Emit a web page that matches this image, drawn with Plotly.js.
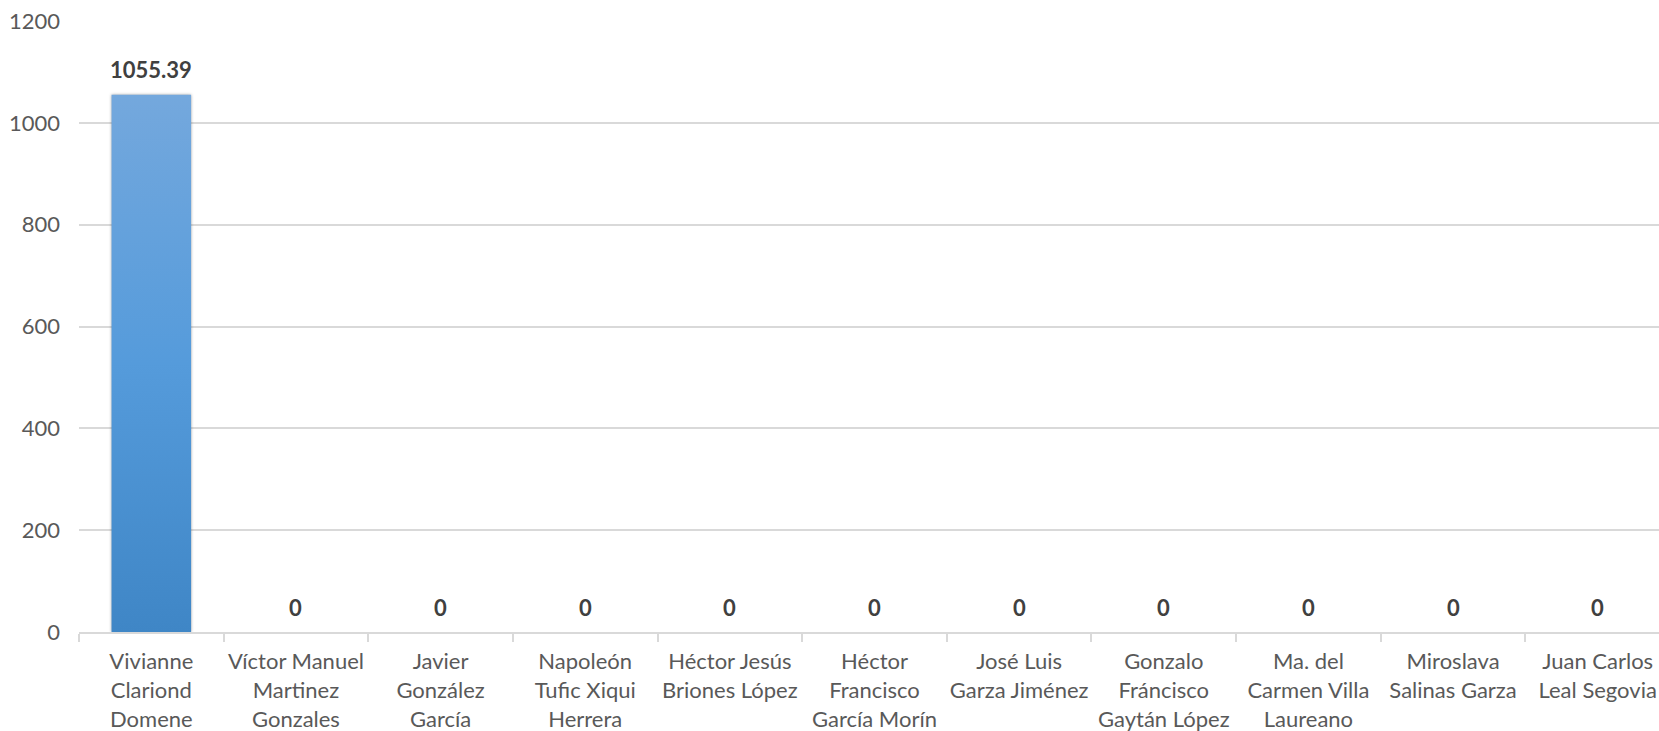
<!DOCTYPE html>
<html>
<head>
<meta charset="utf-8">
<script src="https://cdn.plot.ly/plotly-3.0.1.min.js"></script>
<style>
html,body{margin:0;padding:0;background:#fff;overflow:hidden;}
#chart{width:1659px;height:731px;}
</style>
</head>
<body>
<div id="chart"></div>
<script>
const categories = [
  "Vivianne<br>Clariond<br>Domene",
  "Víctor Manuel<br>Martinez<br>Gonzales",
  "Javier<br>González<br>García",
  "Napoleón<br>Tufic Xiqui<br>Herrera",
  "Héctor Jesús<br>Briones López",
  "Héctor<br>Francisco<br>García Morín",
  "José Luis<br>Garza Jiménez",
  "Gonzalo<br>Fráncisco<br>Gaytán López",
  "Ma. del<br>Carmen Villa<br>Laureano",
  "Miroslava<br>Salinas Garza",
  "Juan Carlos<br>Leal Segovia"
];
const values = [1055.39, 0, 0, 0, 0, 0, 0, 0, 0, 0, 0];
const yTicks = [0, 200, 400, 600, 800, 1000, 1200];

const FONT = "Lato, 'Open Sans', sans-serif";
const labelColor = "#595959";
const gridColor = "#d9d9d9";
const FS = 22;

const trace = {
  type: "bar",
  x: categories,
  y: values,
  width: 0.55,
  marker: {color: "#5b9bd5", line: {width: 0}},
  hoverinfo: "skip"
};

const annotations = categories.map((c, i) => ({
  x: c, y: values[i], xref: "x", yref: "y",
  text: "<b>" + String(values[i]) + "</b>",
  showarrow: false, yanchor: "middle", yshift: 25,
  font: {family: FONT, size: FS, color: "#404040"}
}));

const layout = {
  width: 1659, height: 731,
  margin: {l: 79, r: 0, t: 21, b: 99, pad: 0},
  paper_bgcolor: "#fff", plot_bgcolor: "#fff",
  showlegend: false,
  font: {family: FONT, size: FS, color: labelColor},
  xaxis: {
    type: "category",
    range: [-0.5, 10.5 - 11/144.6],
    showline: true, linecolor: gridColor, linewidth: 2,
    ticks: "outside", tickson: "boundaries", ticklen: 8, tickwidth: 2, tickcolor: gridColor,
    showgrid: false, zeroline: false,
    ticklabelstandoff: 9,
    tickfont: {family: FONT, size: FS, color: labelColor},
    tickangle: 0
  },
  yaxis: {
    range: [0, 1200],
    tickvals: yTicks, ticktext: yTicks.map(String),
    showgrid: true, gridcolor: gridColor, gridwidth: 2,
    zeroline: false, showline: false, ticks: "",
    ticklabelstandoff: 18,
    tickfont: {family: FONT, size: FS, color: labelColor}
  },
  annotations: annotations
};

Plotly.newPlot("chart", [trace], layout, {displayModeBar: false, staticPlot: true}).then(gd => {
  const svg = gd.querySelector(".main-svg");
  const ns = "http://www.w3.org/2000/svg";
  let defs = svg.querySelector("defs");
  if (!defs) { defs = document.createElementNS(ns, "defs"); svg.insertBefore(defs, svg.firstChild); }
  const grad = document.createElementNS(ns, "linearGradient");
  grad.setAttribute("id", "barGrad");
  grad.setAttribute("x1", "0"); grad.setAttribute("y1", "0");
  grad.setAttribute("x2", "0"); grad.setAttribute("y2", "1");
  [["0%", "#74a8dd"], ["50%", "#559bdb"], ["100%", "#3f86c6"]].forEach(([o, c]) => {
    const s = document.createElementNS(ns, "stop");
    s.setAttribute("offset", o); s.setAttribute("stop-color", c);
    grad.appendChild(s);
  });
  defs.appendChild(grad);
  gd.querySelectorAll(".barlayer .point path").forEach(p => {
    p.style.fill = "url(#barGrad)";
    p.style.filter = "drop-shadow(0 0 1.5px rgba(0,0,0,0.35))";
  });
});
</script>
</body>
</html>
